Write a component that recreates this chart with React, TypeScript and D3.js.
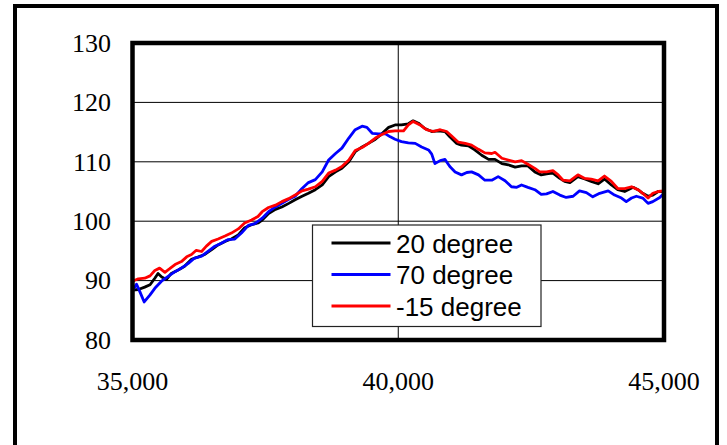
import React from "react";
import * as d3 from "d3";

type Pt = [number, number];

const yTicks = [80, 90, 100, 110, 120, 130];
const xTicks = [35000, 40000, 45000];
const xGrid = [40000];
const yGrid = [90, 100, 110, 120];

const seriesNames = ["20 degree", "70 degree", "-15 degree"];
const seriesColors = ["#000000", "#0000ff", "#ff0000"];

const deg20: Pt[] = [
  [35000, 88.4], [35110, 88.5], [35230, 88.9], [35330, 89.3], [35420, 90.4], [35480, 91.2],
  [35550, 90.6], [35640, 90.2], [35730, 91.2], [35860, 91.8], [35980, 92.4], [36110, 93.6],
  [36240, 94.0], [36360, 94.4], [36490, 95.2], [36610, 96.0], [36740, 96.6], [36860, 97.0],
  [36990, 97.7], [37110, 98.9], [37240, 99.4], [37360, 99.7],
  [37440, 100.2], [37560, 101.3], [37690, 102.0], [37810, 102.4], [37940, 103.0], [38060, 103.6],
  [38190, 104.2], [38310, 104.7], [38440, 105.3], [38570, 106.1], [38690, 107.5], [38820, 108.3],
  [38940, 108.9], [39070, 110.0], [39190, 111.7], [39320, 112.5], [39440, 113.1], [39570, 113.8],
  [39690, 114.7], [39820, 115.8],
  [39940, 116.2], [40060, 116.2], [40190, 116.4], [40280, 116.9], [40380, 116.5], [40500, 115.6],
  [40630, 115.1], [40750, 115.2], [40880, 115.1], [40970, 114.2], [41100, 113.1], [41190, 112.8],
  [41320, 112.7], [41440, 112.0], [41570, 111.1], [41700, 110.4], [41820, 110.4], [41950, 109.7],
  [42070, 109.5], [42200, 109.1], [42320, 109.3],
  [42440, 109.3], [42570, 108.3], [42690, 107.8], [42820, 108.0], [42910, 108.1], [43040, 107.2],
  [43130, 106.7], [43230, 106.5], [43380, 107.5], [43510, 107.1], [43630, 106.7], [43760, 106.3],
  [43880, 107.1], [44010, 106.1], [44130, 105.3], [44260, 105.0], [44420, 105.7], [44510, 105.3],
  [44600, 104.7], [44700, 104.2], [44790, 104.4], [44890, 105.0], [45000, 105.0],
];

const deg70: Pt[] = [
  [35000, 88.3], [35075, 89.4], [35140, 88.1], [35220, 86.4], [35330, 87.6], [35420, 88.7],
  [35545, 89.9], [35670, 90.7], [35800, 91.5], [35920, 92.1], [36050, 92.9], [36170, 93.8],
  [36300, 94.1], [36420, 94.9], [36550, 95.8], [36670, 96.3], [36800, 96.9], [36925, 97.0],
  [37050, 98.0], [37180, 99.3], [37300, 99.6],
  [37440, 100.5], [37560, 101.6], [37690, 102.4], [37810, 103.0], [37940, 103.7], [38060, 104.2],
  [38190, 105.5], [38310, 106.5], [38440, 107.0], [38570, 108.3], [38690, 110.3], [38820, 111.4],
  [38940, 112.3], [39070, 114.0], [39190, 115.4], [39320, 116.0], [39410, 115.8], [39510, 114.8],
  [39630, 114.7], [39760, 114.7], [39850, 114.2],
  [39940, 113.8], [40060, 113.4], [40190, 113.2], [40320, 113.1], [40440, 112.5], [40570, 112.0],
  [40630, 111.3], [40690, 109.7], [40790, 110.2], [40880, 110.4], [40970, 109.2], [41070, 108.3],
  [41190, 107.8], [41290, 108.2], [41380, 108.3], [41510, 107.8], [41630, 106.9], [41760, 106.9],
  [41880, 107.5], [42010, 106.8], [42130, 105.8], [42230, 105.7], [42320, 106.1],
  [42440, 105.7], [42570, 105.3], [42690, 104.5], [42790, 104.6], [42910, 105.0], [43040, 104.4],
  [43160, 104.0], [43290, 104.2], [43410, 105.1], [43540, 104.8], [43660, 104.1], [43790, 104.7],
  [43950, 105.1], [44070, 104.4], [44200, 103.9], [44290, 103.3], [44390, 103.9], [44480, 104.2],
  [44600, 103.9], [44700, 103.0], [44790, 103.3], [44920, 104.0], [45000, 104.7],
];

const degMinus15: Pt[] = [
  [35000, 89.9], [35110, 90.3], [35230, 90.4], [35330, 90.8], [35420, 91.7], [35510, 92.1],
  [35610, 91.4], [35700, 92.0], [35800, 92.7], [35920, 93.2], [36020, 94.0], [36110, 94.4],
  [36200, 95.1], [36300, 94.9], [36390, 95.8], [36490, 96.6], [36610, 97.0], [36740, 97.5],
  [36860, 98.0], [36990, 98.7], [37110, 99.7], [37240, 100.2], [37360, 100.8],
  [37440, 101.6], [37560, 102.3], [37690, 102.7], [37810, 103.3], [37940, 103.8], [38060, 104.4],
  [38190, 105.1], [38310, 105.4], [38440, 105.8], [38570, 106.7], [38690, 108.1], [38820, 108.6],
  [38940, 109.2], [39070, 110.3], [39190, 111.9], [39320, 112.4], [39440, 113.1], [39570, 114.0],
  [39690, 114.6], [39820, 115.1],
  [39940, 115.2], [40100, 115.2], [40190, 116.2], [40280, 116.8], [40410, 116.2], [40530, 115.4],
  [40660, 115.1], [40790, 115.4], [40910, 115.1], [41010, 114.3], [41130, 113.3], [41260, 113.1],
  [41380, 112.8], [41510, 112.1], [41630, 111.5], [41760, 111.4], [41820, 111.6], [41950, 110.6],
  [42070, 110.3], [42200, 110.0], [42320, 110.2],
  [42440, 109.6], [42570, 108.9], [42660, 108.3], [42790, 108.3], [42910, 108.5], [43010, 107.8],
  [43100, 106.9], [43230, 106.8], [43380, 107.8], [43510, 107.2], [43630, 107.1], [43760, 106.8],
  [43880, 107.6], [44010, 106.7], [44130, 105.5], [44260, 105.5], [44390, 105.8], [44510, 105.3],
  [44600, 104.7], [44700, 103.9], [44790, 104.7], [44890, 105.0], [45000, 105.1],
];

const allSeries = [deg20, deg70, degMinus15];

export default function App() {
  const W = 727;
  const H = 445;
  const left = 132.5;
  const right = 664;
  const top = 43;
  const bottom = 340;

  const x = d3.scaleLinear().domain([35000, 45000]).range([left, right]);
  const y = d3.scaleLinear().domain([80, 130]).range([bottom, top]);
  const line = d3
    .line<Pt>()
    .x((d) => x(d[0]))
    .y((d) => y(d[1]));
  const fmt = d3.format(",");

  const legX = 312.5;
  const legY = 225;
  const legW = 228.5;
  const legH = 101.5;
  const rowBase = [252.5, 284, 315.5];

  return (
    <svg
      width={W}
      height={H}
      viewBox={`0 0 ${W} ${H}`}
      style={{ position: "absolute", left: 0, top: 0, background: "#fff" }}
    >
      <rect x={0} y={0} width={W} height={H} fill="#fff" />
      {/* outer chart frame */}
      <rect x={15} y={6} width={702} height={460} fill="none" stroke="#000" strokeWidth={4} />

      {/* grid */}
      {yGrid.map((v) => (
        <line key={"gy" + v} x1={left} x2={right} y1={y(v)} y2={y(v)} stroke="#000" strokeWidth={1} />
      ))}
      {xGrid.map((v) => (
        <line key={"gx" + v} x1={x(v)} x2={x(v)} y1={top} y2={bottom} stroke="#000" strokeWidth={1} />
      ))}

      {/* series */}
      {allSeries.map((s, i) => (
        <path
          key={"s" + i}
          d={line(s) || ""}
          fill="none"
          stroke={seriesColors[i]}
          strokeWidth={2.8}
          strokeLinejoin="round"
          strokeLinecap="round"
        />
      ))}

      {/* plot frame */}
      <rect
        x={left}
        y={top}
        width={right - left}
        height={bottom - top}
        fill="none"
        stroke="#000"
        strokeWidth={4.5}
      />

      {/* y tick labels */}
      {yTicks.map((v) => (
        <text
          key={"yt" + v}
          x={111}
          y={y(v)}
          dy="0.34em"
          textAnchor="end"
          fontFamily="'Liberation Serif', 'Times New Roman', serif"
          fontSize={26}
          fill="#000"
        >
          {v}
        </text>
      ))}

      {/* x tick labels */}
      {xTicks.map((v) => (
        <text
          key={"xt" + v}
          x={x(v)}
          y={390}
          textAnchor="middle"
          fontFamily="'Liberation Serif', 'Times New Roman', serif"
          fontSize={26}
          fill="#000"
        >
          {fmt(v)}
        </text>
      ))}

      {/* legend */}
      <rect x={legX} y={legY} width={legW} height={legH} fill="#fff" stroke="#222" strokeWidth={1.2} />
      {seriesNames.map((n, i) => (
        <g key={"lg" + i}>
          <line
            x1={331.5}
            x2={390.5}
            y1={rowBase[i] - 9.5}
            y2={rowBase[i] - 9.5}
            stroke={seriesColors[i]}
            strokeWidth={2.8}
          />
          <text
            x={396}
            y={rowBase[i]}
            fontFamily="'Liberation Sans', Arial, sans-serif"
            fontSize={26}
            fill="#000"
          >
            {n}
          </text>
        </g>
      ))}
    </svg>
  );
}
